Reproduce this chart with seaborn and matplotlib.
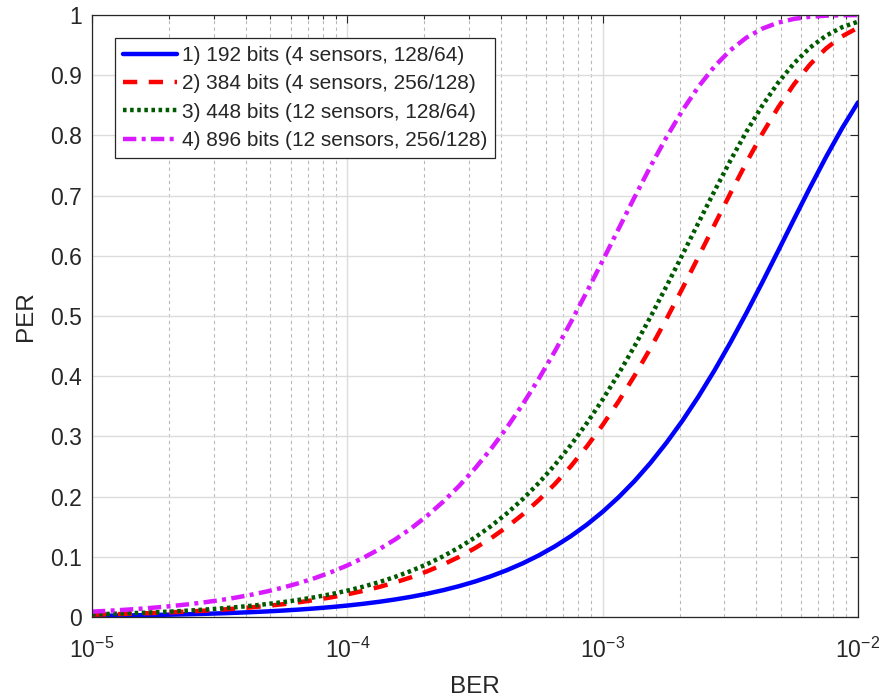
import matplotlib
matplotlib.use("Agg")
import matplotlib.pyplot as plt
import seaborn as sns
from matplotlib.ticker import LogLocator, NullFormatter

# BER sample points (16 per decade) and PER values
ber = [1.0e-5, 1.1548e-5, 1.3335e-5, 1.5399e-5, 1.7783e-5, 2.0535e-5, 2.3714e-5, 2.7384e-5,
       3.1623e-5, 3.6517e-5, 4.2170e-5, 4.8697e-5, 5.6234e-5, 6.4938e-5, 7.4989e-5, 8.6596e-5,
       1.0e-4, 1.1548e-4, 1.3335e-4, 1.5399e-4, 1.7783e-4, 2.0535e-4, 2.3714e-4, 2.7384e-4,
       3.1623e-4, 3.6517e-4, 4.2170e-4, 4.8697e-4, 5.6234e-4, 6.4938e-4, 7.4989e-4, 8.6596e-4,
       1.0e-3, 1.1548e-3, 1.3335e-3, 1.5399e-3, 1.7783e-3, 2.0535e-3, 2.3714e-3, 2.7384e-3,
       3.1623e-3, 3.6517e-3, 4.2170e-3, 4.8697e-3, 5.6234e-3, 6.4938e-3, 7.4989e-3, 8.6596e-3,
       1.0e-2]

per_192 = [0.00192, 0.00221, 0.00256, 0.00295, 0.00341, 0.00394, 0.00454, 0.00524,
           0.00605, 0.00699, 0.00806, 0.00931, 0.01074, 0.01239, 0.01430, 0.01649,
           0.01902, 0.02193, 0.02528, 0.02914, 0.03357, 0.03867, 0.04452, 0.05123,
           0.05892, 0.06772, 0.07779, 0.08928, 0.10237, 0.11726, 0.13414, 0.15324,
           0.17477, 0.19895, 0.22596, 0.25611, 0.28954, 0.32608, 0.36609, 0.40932,
           0.45564, 0.50460, 0.55574, 0.60830, 0.66135, 0.71375, 0.76431, 0.81175,
           0.85479]
per_384 = [0.00383, 0.00442, 0.00511, 0.00590, 0.00681, 0.00785, 0.00907, 0.01046,
           0.01207, 0.01393, 0.01606, 0.01853, 0.02136, 0.02463, 0.02839, 0.03271,
           0.03767, 0.04338, 0.04992, 0.05742, 0.06601, 0.07583, 0.08705, 0.09983,
           0.11437, 0.13086, 0.14953, 0.17060, 0.19429, 0.22077, 0.25027, 0.28302,
           0.31899, 0.35833, 0.40099, 0.44668, 0.49514, 0.54589, 0.59815, 0.65110,
           0.70363, 0.75457, 0.80265, 0.84656, 0.88531, 0.91806, 0.94444, 0.96456,
           0.97891]
per_448 = [0.00447, 0.00516, 0.00596, 0.00688, 0.00794, 0.00916, 0.01057, 0.01219,
           0.01407, 0.01623, 0.01872, 0.02158, 0.02488, 0.02867, 0.03304, 0.03805,
           0.04382, 0.05042, 0.05800, 0.06667, 0.07659, 0.08789, 0.10080, 0.11545,
           0.13211, 0.15095, 0.17218, 0.19605, 0.22276, 0.25249, 0.28544, 0.32167,
           0.36123, 0.40407, 0.45000, 0.49862, 0.54952, 0.60184, 0.65477, 0.70727,
           0.75806, 0.80584, 0.84938, 0.88775, 0.91999, 0.94600, 0.96568, 0.97969,
           0.98891]
per_896 = [0.00892, 0.01029, 0.01188, 0.01370, 0.01581, 0.01823, 0.02102, 0.02424,
           0.02794, 0.03219, 0.03708, 0.04269, 0.04914, 0.05652, 0.06498, 0.07466,
           0.08571, 0.09830, 0.11263, 0.12888, 0.14730, 0.16806, 0.19143, 0.21758,
           0.24677, 0.27911, 0.31472, 0.35365, 0.39593, 0.44124, 0.48939, 0.53987,
           0.59197, 0.64487, 0.69750, 0.74863, 0.79704, 0.84148, 0.88083, 0.91431,
           0.94146, 0.96229, 0.97733, 0.98740, 0.99361, 0.99708, 0.99882, 0.99959,
           0.99988]

labels = ["1) 192 bits (4 sensors, 128/64)",
          "2) 384 bits (4 sensors, 256/128)",
          "3) 448 bits (12 sensors, 128/64)",
          "4) 896 bits (12 sensors, 256/128)"]
yticks = [0, 0.1, 0.2, 0.3, 0.4, 0.5, 0.6, 0.7, 0.8, 0.9, 1]
yticklabels = ['0', '0.1', '0.2', '0.3', '0.4', '0.5', '0.6', '0.7', '0.8', '0.9', '1']

sns.set_style("white")
plt.rcParams['font.family'] = ['Liberation Sans', 'DejaVu Sans']
plt.rcParams['mathtext.default'] = 'regular'
plt.rcParams['axes.unicode_minus'] = False

fig = plt.figure(figsize=(8.81, 6.96), dpi=100)
ax = fig.add_axes([92/881, 1 - 617/696, (858-92)/881, (617-15)/696])

lw = 3.2
sns.lineplot(x=ber, y=per_192, ax=ax, color='#0000ff', lw=lw, label=labels[0])
sns.lineplot(x=ber, y=per_384, ax=ax, color='#ff0000', lw=lw, label=labels[1],
             linestyle=(0, (3.2, 2.6)))
sns.lineplot(x=ber, y=per_448, ax=ax, color='#005a00', lw=lw, label=labels[2],
             linestyle=(0, (0.8, 0.8)))
sns.lineplot(x=ber, y=per_896, ax=ax, color='#d91aff', lw=lw, label=labels[3],
             linestyle=(0, (3.0, 1.2, 0.9, 1.2)))

ax.set_xscale('log')
ax.set_xlim(1e-5, 1e-2)
ax.set_ylim(0, 1)
ax.set_yticks(yticks)
ax.set_yticklabels(yticklabels)
ax.xaxis.set_minor_locator(LogLocator(base=10, subs=range(2, 10)))
ax.xaxis.set_minor_formatter(NullFormatter())

ax.grid(True, which='major', color='#dcdcdc', lw=1.0, ls='-')
ax.grid(True, which='minor', axis='x', color='#b8b8b8', lw=0.8, ls=(0, (3, 3)))
ax.set_axisbelow(True)

ax.tick_params(which='both', direction='in', top=True, right=True, colors='#262626',
               labelsize=16.5, labelcolor='#262626')
ax.tick_params(which='major', length=6, width=0.8)
ax.tick_params(which='minor', length=3, width=0.8)
ax.tick_params(axis='x', which='major', pad=15)
ax.tick_params(axis='y', which='major', pad=7)
for s in ax.spines.values():
    s.set_color('#262626')
    s.set_linewidth(0.9)

ax.set_xlabel('BER', fontsize=17.5, color='#262626', labelpad=9)
ax.set_ylabel('PER', fontsize=17.5, color='#262626', labelpad=10)

leg = ax.legend(loc='upper left', bbox_to_anchor=(23/766, 1 - 23/602), fontsize=15,
                frameon=True, fancybox=False, edgecolor='#262626', framealpha=1,
                handlelength=2.6, handletextpad=0.24, borderpad=0.38, labelspacing=0.45,
                borderaxespad=0)
leg.get_frame().set_linewidth(0.9)

fig.savefig('out.png', dpi=100)
